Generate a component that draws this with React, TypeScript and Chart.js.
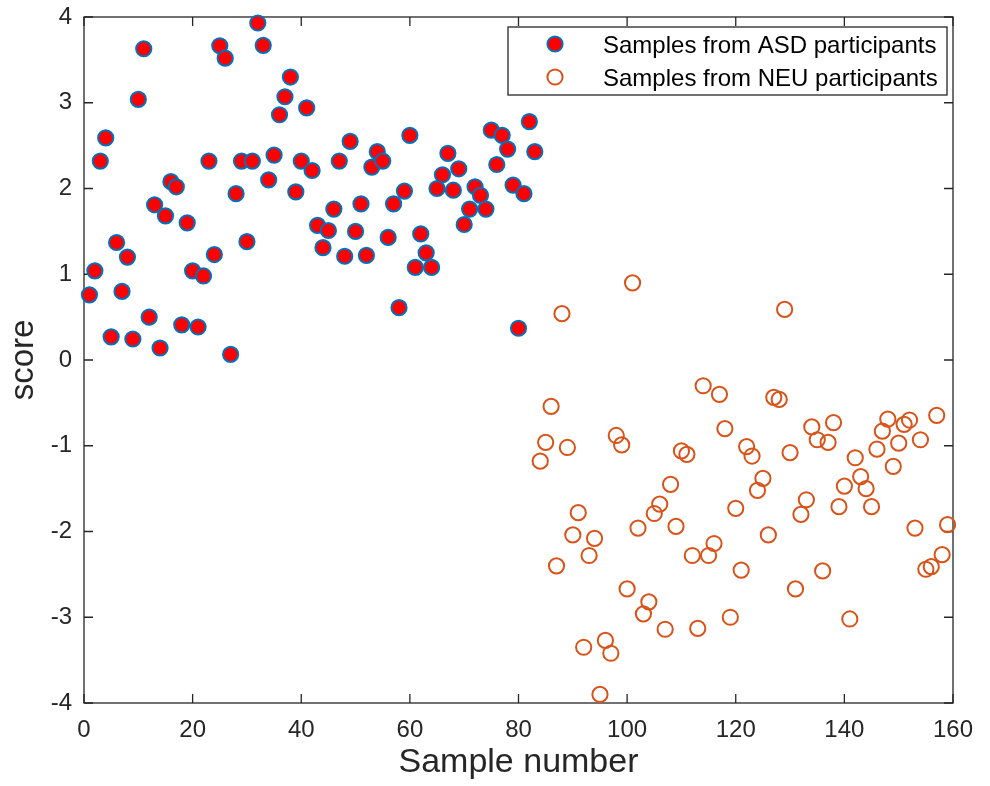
import React, { useEffect, useRef } from "react";
import { Chart, registerables } from "chart.js";

Chart.register(...registerables);

// ---------- data ----------
const asdSamples = [
  1, 2, 3, 4, 5, 6, 7, 8, 9, 10, 11, 12, 13, 14, 15, 16, 17, 18, 19, 20,
  21, 22, 23, 24, 25, 26, 27, 28, 29, 30, 31, 32, 33, 34, 35, 36, 37, 38, 39, 40,
  41, 42, 43, 44, 45, 46, 47, 48, 49, 50, 51, 52, 53, 54, 55, 56, 57, 58, 59, 60,
  61, 62, 63, 64, 65, 66, 67, 68, 69, 70, 71, 72, 73, 74, 75, 76, 77, 78, 79, 80,
  81, 82, 83,
];
const asdScores = [
  0.76, 1.04, 2.32, 2.59, 0.27, 1.37, 0.8, 1.2, 0.245, 3.04,
  3.63, 0.5, 1.81, 0.14, 1.68, 2.08, 2.02, 0.41, 1.6, 1.04,
  0.385, 0.98, 2.32, 1.23, 3.665, 3.52, 0.066, 1.94, 2.32, 1.38,
  2.32, 3.93, 3.67, 2.1, 2.39, 2.86, 3.07, 3.3, 1.96, 2.32,
  2.94, 2.21, 1.57, 1.31, 1.51, 1.76, 2.32, 1.21, 2.55, 1.5,
  1.82, 1.22, 2.25, 2.43, 2.32, 1.43, 1.82, 0.61, 1.97, 2.62,
  1.08, 1.47, 1.25, 1.08, 2.0, 2.16, 2.41, 1.98, 2.23, 1.58,
  1.76, 2.02, 1.92, 1.76, 2.68, 2.28, 2.62, 2.46, 2.04, 0.37,
  1.94, 2.78, 2.43,
];
const neuSamples = [
  84, 85, 86, 87, 88, 89, 90, 91, 92, 93, 94, 95, 96, 97, 98, 99, 100,
  101, 102, 103, 104, 105, 106, 107, 108, 109, 110, 111, 112, 113, 114, 115, 116, 117, 118, 119, 120,
  121, 122, 123, 124, 125, 126, 127, 128, 129, 130, 131, 132, 133, 134, 135, 136, 137, 138, 139, 140,
  141, 142, 143, 144, 145, 146, 147, 148, 149, 150, 151, 152, 153, 154, 155, 156, 157, 158, 159,
];
const neuScores = [
  -1.18, -0.96, -0.54, -2.4, 0.54, -1.02, -2.04, -1.78, -3.35, -2.28, -2.08, -3.9, -3.27, -3.42, -0.88, -0.99, -2.67,
  0.9, -1.96, -2.96, -2.82, -1.79, -1.68, -3.14, -1.45, -1.94, -1.06, -1.1, -2.28, -3.13, -0.3, -2.28, -2.14, -0.4, -0.8, -3.0, -1.73,
  -2.45, -1.01, -1.12, -1.52, -1.38, -2.04, -0.435, -0.46, 0.59, -1.08, -2.67, -1.8, -1.63, -0.78, -0.93, -2.46, -0.96, -0.73, -1.71, -1.47,
  -3.02, -1.14, -1.36, -1.5, -1.71, -1.04, -0.83, -0.69, -1.24, -0.97, -0.75, -0.7, -1.96, -0.93, -2.44, -2.41, -0.645, -2.27, -1.92,
];
const xTickValues = [0, 20, 40, 60, 80, 100, 120, 140, 160];
const yTickValues = [-4, -3, -2, -1, 0, 1, 2, 3, 4];
const seriesLabels = ["Samples from ASD participants", "Samples from NEU participants"];
const xTitle = "Sample number";
const yTitle = "score";

const FONT = "'Liberation Sans', Arial, Helvetica, sans-serif";
const AXIS = "#262626";

const boxPlugin = {
  id: "matlabBox",
  beforeDatasetsDraw(chart: any) {
    const { ctx, chartArea: a, scales } = chart;
    const x = scales.x;
    const y = scales.y;
    const tl = 9;
    ctx.save();
    ctx.strokeStyle = AXIS;
    ctx.lineWidth = 1.3;
    ctx.beginPath();
    for (const v of xTickValues) {
      const px = x.getPixelForValue(v);
      ctx.moveTo(px, a.bottom);
      ctx.lineTo(px, a.bottom - tl);
      ctx.moveTo(px, a.top);
      ctx.lineTo(px, a.top + tl);
    }
    for (const v of yTickValues) {
      const py = y.getPixelForValue(v);
      ctx.moveTo(a.left, py);
      ctx.lineTo(a.left + tl, py);
      ctx.moveTo(a.right, py);
      ctx.lineTo(a.right - tl, py);
    }
    ctx.stroke();
    ctx.strokeRect(a.left, a.top, a.right - a.left, a.bottom - a.top);
    ctx.restore();
  },
};

const legendPlugin = {
  id: "insideLegend",
  afterDraw(chart: any) {
    const { ctx } = chart;
    const ds = chart.data.datasets;
    const left = 508;
    const top = 27;
    const w = 439;
    const h = 68;
    ctx.save();
    ctx.fillStyle = "#ffffff";
    ctx.fillRect(left, top, w, h);
    ctx.strokeStyle = AXIS;
    ctx.lineWidth = 1.3;
    ctx.strokeRect(left, top, w, h);
    const rows = [44, 77];
    ds.forEach((d: any, i: number) => {
      const cy = rows[i];
      ctx.beginPath();
      ctx.arc(555, cy, d.pointRadius, 0, Math.PI * 2);
      if (d.pointBackgroundColor && d.pointBackgroundColor !== "rgba(0,0,0,0)") {
        ctx.fillStyle = d.pointBackgroundColor;
        ctx.fill();
      }
      ctx.lineWidth = d.pointBorderWidth;
      ctx.strokeStyle = d.pointBorderColor;
      ctx.stroke();
      ctx.fillStyle = "#000000";
      ctx.font = `24px ${FONT}`;
      ctx.textAlign = "left";
      ctx.textBaseline = "middle";
      ctx.fillText(d.label, 603, cy + 2);
    });
    ctx.restore();
  },
};

export default function App() {
  const ref = useRef<HTMLCanvasElement | null>(null);

  useEffect(() => {
    if (!ref.current) return;
    const chart = new Chart(ref.current, {
      type: "scatter",
      data: {
        datasets: [
          {
            label: seriesLabels[0],
            data: asdSamples.map((s, i) => ({ x: s, y: asdScores[i] })),
            pointRadius: 7.6,
            pointBorderWidth: 2,
            pointBackgroundColor: "#ff0000",
            pointBorderColor: "#0072bd",
            pointHoverRadius: 7.6,
            clip: false as any,
          },
          {
            label: seriesLabels[1],
            data: neuSamples.map((s, i) => ({ x: s, y: neuScores[i] })),
            pointRadius: 7.6,
            pointBorderWidth: 2,
            pointBackgroundColor: "rgba(0,0,0,0)",
            pointBorderColor: "#d95319",
            pointHoverRadius: 7.6,
            clip: false as any,
          },
        ],
      },
      options: {
        animation: false,
        responsive: false,
        events: [],
        layout: { padding: { left: 0, top: 17, right: 37, bottom: 0 } },
        plugins: {
          legend: { display: false },
          tooltip: { enabled: false },
        },
        scales: {
          x: {
            type: "linear",
            min: 0,
            max: 160,
            grid: { display: false, drawTicks: false },
            border: { display: false },
            afterBuildTicks: (s: any) => {
              s.ticks = xTickValues.map((v) => ({ value: v }));
            },
            afterFit: (s: any) => {
              s.height = 83;
              s.paddingLeft = 0;
              s.paddingRight = 0;
            },
            ticks: {
              color: AXIS,
              padding: 13,
              maxRotation: 0,
              font: { family: FONT, size: 24 },
            },
            title: {
              display: true,
              text: xTitle,
              color: AXIS,
              font: { family: FONT, size: 34 },
              padding: { top: 0, bottom: 3 },
            },
          },
          y: {
            type: "linear",
            min: -4,
            max: 4,
            grid: { display: false, drawTicks: false },
            border: { display: false },
            afterBuildTicks: (s: any) => {
              s.ticks = yTickValues.map((v) => ({ value: v }));
            },
            afterFit: (s: any) => {
              s.width = 84;
              s.paddingTop = 0;
              s.paddingBottom = 0;
            },
            ticks: {
              color: AXIS,
              padding: 12,
              font: { family: FONT, size: 24 },
            },
            title: {
              display: true,
              text: yTitle,
              color: AXIS,
              font: { family: FONT, size: 33 },
              padding: { top: 4, bottom: 0 },
            },
          },
        },
      },
      plugins: [boxPlugin, legendPlugin],
    });
    return () => chart.destroy();
  }, []);

  return (
    <div style={{ position: "fixed", left: 0, top: 0, width: 990, height: 786, background: "#fff" }}>
      <canvas ref={ref} width={990} height={786} />
    </div>
  );
}
